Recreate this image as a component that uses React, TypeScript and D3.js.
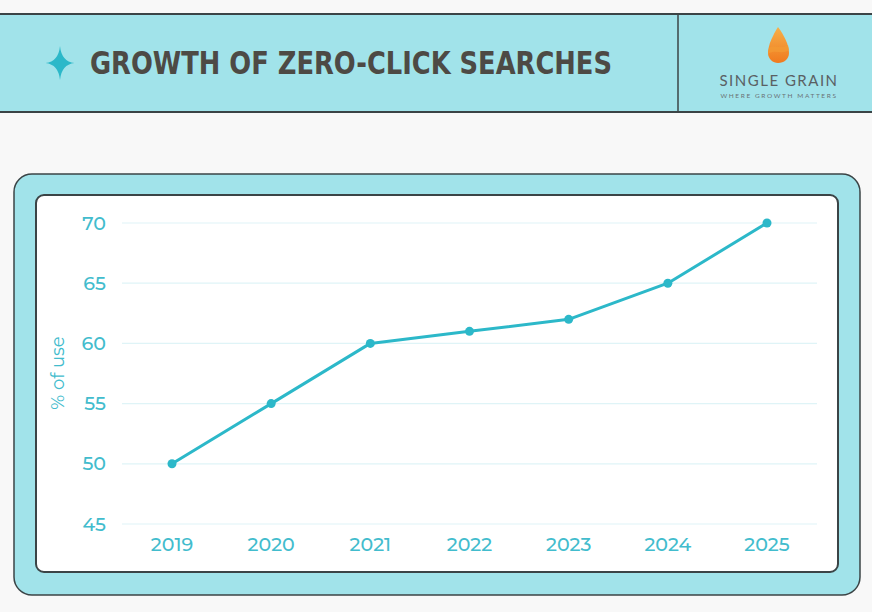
import React, { useEffect, useRef } from 'react';
import * as d3 from 'd3';

const years = ['2019', '2020', '2021', '2022', '2023', '2024', '2025'];
const usage = [50, 55, 60, 61, 62, 65, 70];
const yTicks = [45, 50, 55, 60, 65, 70];

const W = 872;
const H = 612;
const TEAL = '#2cb8c9';
const LABEL = '#42bccd';
const BAND = '#a1e3ea';
const DARK = '#3b4446';

export default function App() {
  const svgRef = useRef<SVGSVGElement>(null);

  useEffect(() => {
    if (!svgRef.current) return;
    const svg = d3.select(svgRef.current);
    svg.selectAll('*').remove();

    svg.append('rect').attr('width', W).attr('height', H).attr('fill', '#f8f8f8');

    // header band
    svg.append('rect').attr('x', -2).attr('y', 14).attr('width', W + 4).attr('height', 98)
      .attr('fill', BAND).attr('stroke', DARK).attr('stroke-width', 2);
    svg.append('line').attr('x1', 678).attr('x2', 678).attr('y1', 14).attr('y2', 112)
      .attr('stroke', DARK).attr('stroke-width', 1.5);

    // four point star
    const sx = 60, sy = 63, sr = 17, si = 1.5;
    svg.append('path')
      .attr('d', `M${sx},${sy - sr} Q${sx + si},${sy - si} ${sx + sr * 0.85},${sy} Q${sx + si},${sy + si} ${sx},${sy + sr} Q${sx - si},${sy + si} ${sx - sr * 0.85},${sy} Q${sx - si},${sy - si} ${sx},${sy - sr}Z`)
      .attr('fill', TEAL);

    svg.append('text').attr('x', 90).attr('y', 74)
      .attr('font-family', '"DejaVu Sans Condensed", "DejaVu Sans", sans-serif')
      .attr('font-weight', 'bold').attr('font-size', 32)
      .attr('textLength', 522).attr('lengthAdjust', 'spacingAndGlyphs')
      .attr('fill', '#4d4a45')
      .text('GROWTH OF ZERO-CLICK SEARCHES');

    // logo
    const grad = svg.append('defs').append('linearGradient').attr('id', 'drop')
      .attr('x1', 0).attr('y1', 0).attr('x2', 0).attr('y2', 1);
    grad.append('stop').attr('offset', '0%').attr('stop-color', '#f6b04a');
    grad.append('stop').attr('offset', '100%').attr('stop-color', '#f07a1e');
    svg.append('path')
      .attr('d', 'M778,27 C773,35 768,45 768,53 C768,59 773,63 778,63 C784,63 789,59 789,53 C789,45 784,35 778,27Z')
      .attr('fill', 'url(#drop)');
    svg.append('path')
      .attr('d', 'M769,48 C774,44 780,50 788,45 L789,50 C782,55 775,49 768,54Z')
      .attr('fill', '#f39a33').attr('opacity', 0.8);
    svg.append('text').attr('x', 779).attr('y', 86).attr('text-anchor', 'middle')
      .attr('font-family', 'Lato, "Noto Sans", sans-serif').attr('font-size', 15)
      .attr('letter-spacing', 1.5).attr('fill', '#5a6063').text('SINGLE GRAIN');
    svg.append('text').attr('x', 779).attr('y', 98).attr('text-anchor', 'middle')
      .attr('font-family', 'Lato, "Noto Sans", sans-serif').attr('font-size', 6.5)
      .attr('letter-spacing', 1.6).attr('fill', '#6a7275').text('WHERE GROWTH MATTERS');

    // frames
    svg.append('rect').attr('x', 14).attr('y', 174).attr('width', 846).attr('height', 421).attr('rx', 18)
      .attr('fill', BAND).attr('stroke', DARK).attr('stroke-width', 1.5);
    svg.append('rect').attr('x', 36).attr('y', 195).attr('width', 802).attr('height', 377).attr('rx', 8)
      .attr('fill', '#ffffff').attr('stroke', DARK).attr('stroke-width', 2);

    const x = d3.scalePoint<string>().domain(years).range([172, 767]);
    const y = d3.scaleLinear().domain([45, 70]).range([524, 223]);

    const g = svg.append('g');
    g.selectAll('line.grid').data(yTicks).join('line').attr('class', 'grid')
      .attr('x1', 122).attr('x2', 817)
      .attr('y1', d => y(d)).attr('y2', d => y(d))
      .attr('stroke', '#dff4f7').attr('stroke-width', 1.2);

    const font = 'Montserrat, "Noto Sans", sans-serif';
    g.selectAll('text.yt').data(yTicks).join('text').attr('class', 'yt')
      .attr('x', 106).attr('y', d => y(d)).attr('dy', '0.35em')
      .attr('text-anchor', 'end').attr('font-family', font).attr('font-size', 19)
      .attr('font-weight', 500).attr('fill', LABEL).text(d => String(d));

    g.selectAll('text.xt').data(years).join('text').attr('class', 'xt')
      .attr('x', d => x(d)!).attr('y', 544).attr('dy', '0.35em')
      .attr('text-anchor', 'middle').attr('font-family', font).attr('font-size', 19)
      .attr('font-weight', 500).attr('fill', LABEL).text(d => d);

    g.append('text').attr('transform', 'translate(58,373) rotate(-90)')
      .attr('text-anchor', 'middle').attr('dy', '0.35em')
      .attr('font-family', font).attr('font-size', 18).attr('fill', LABEL).text('% of use');

    const line = d3.line<number>().x((_, i) => x(years[i])!).y(d => y(d));
    g.append('path').datum(usage).attr('d', line).attr('fill', 'none')
      .attr('stroke', TEAL).attr('stroke-width', 3).attr('stroke-linejoin', 'round');
    g.selectAll('circle.pt').data(usage).join('circle').attr('class', 'pt')
      .attr('cx', (_, i) => x(years[i])!).attr('cy', d => y(d)).attr('r', 4.5)
      .attr('fill', TEAL);
  }, []);

  return <svg ref={svgRef} width={W} height={H} style={{ display: 'block', position: 'absolute', left: 0, top: 0 }} />;
}
